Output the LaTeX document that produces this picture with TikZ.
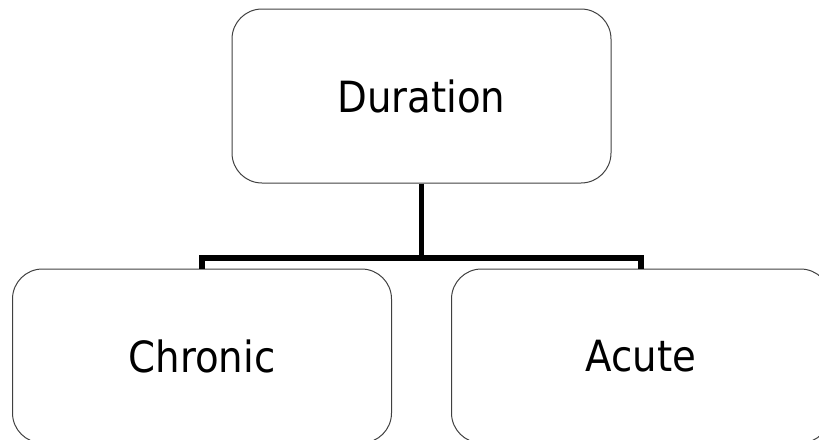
\documentclass[tikz,border=0pt]{standalone}
\usepackage{fontspec}
\setmainfont{DejaVu Sans Condensed}
\usepackage{tikz}

\begin{document}
\begin{tikzpicture}[x=1pt,y=-1pt]
%define

\tikzstyle{state_box} = [rectangle, rounded corners=30pt, minimum width=379pt, minimum height=174pt, inner sep=0pt, text centered, draw=black!75, line width=1pt, font=\fontsize{43}{50}\selectfont]
\tikzstyle{branch} = [line width=5.5pt, miter limit=10]

\useasboundingbox (0,0) rectangle (819,439);

\node[state_box](state_Duration) at (421.5,96){Duration};
\node[state_box](state_Chronic) at (202,356){Chronic};
\node[state_box](state_Acute) at (641,356){Acute};
%line

\coordinate (fork) at (state_Duration.south |- 0,258);
\draw[branch](state_Duration.south)--(fork); %Duration->fork
\draw[branch](fork)-|(state_Chronic.north); %fork->Chronic
\draw[branch](fork)-|(state_Acute.north); %fork->Acute

\end{tikzpicture}
\end{document}
